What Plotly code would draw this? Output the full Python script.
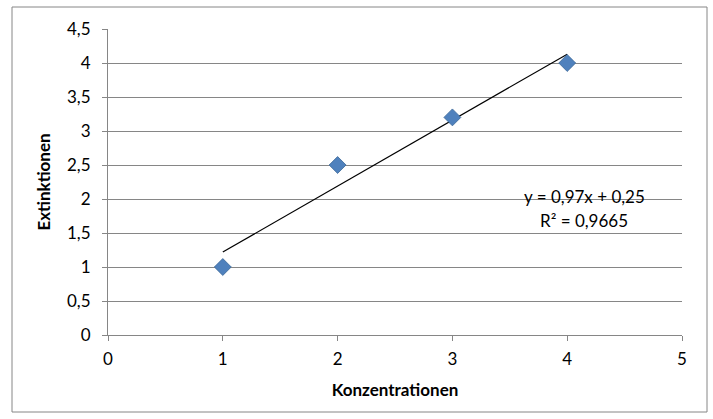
import numpy as np
import plotly.graph_objects as go

konz = [1, 2, 3, 4]
ext = [1, 2.5, 3.2, 4]
slope, intercept = 0.97, 0.25
r2_text = "R² = 0,9665"
eq_text = "y = 0,97x + 0,25"
x_ticks = [0, 1, 2, 3, 4, 5]
x_labels = ["0", "1", "2", "3", "4", "5"]
y_ticks = [0, 0.5, 1, 1.5, 2, 2.5, 3, 3.5, 4, 4.5]
y_labels = ["0", "0,5", "1", "1,5", "2", "2,5", "3", "3,5", "4", "4,5"]

FONT = "Lato"
GRID = "#868686"
FS = 17

trend_x = np.array([min(konz), max(konz)])
trend_y = slope * trend_x + intercept

fig = go.Figure()
fig.add_trace(go.Scatter(x=trend_x, y=trend_y, mode="lines",
                         line=dict(color="black", width=1.2), showlegend=False, hoverinfo="skip"))
fig.add_trace(go.Scatter(x=konz, y=ext, mode="markers",
                         marker=dict(symbol="diamond", size=13, color="#4F81BD",
                                     line=dict(color="#3A6797", width=0.8)),
                         showlegend=False))

fig.add_annotation(x=4.15, y=2.03, xref="x", yref="y", text=eq_text, showarrow=False,
                   font=dict(family=FONT, size=FS, color="#000"))
fig.add_annotation(x=4.15, y=1.68, xref="x", yref="y", text=r2_text, showarrow=False,
                   font=dict(family=FONT, size=FS, color="#000"))

pw, ph = 574, 306
fig.add_shape(type="rect", xref="paper", yref="paper",
              x0=(12 - 108) / pw, x1=(707 - 108) / pw,
              y0=(335 - 412) / ph, y1=(335 - 7) / ph,
              line=dict(color="#868686", width=1), layer="below")

fig.update_layout(
    width=713, height=419,
    margin=dict(l=108, r=31, t=29, b=84),
    paper_bgcolor="white", plot_bgcolor="white",
    font=dict(family=FONT, size=FS, color="#000"),
    xaxis=dict(range=[0, 5], tickvals=x_ticks, ticktext=x_labels,
               showgrid=False, showline=True, linecolor=GRID, linewidth=1,
               ticks="outside", ticklen=5, tickcolor=GRID, zeroline=False,
               ticklabelstandoff=4,
               title=dict(text="<b>Konzentrationen</b>", font=dict(size=FS), standoff=15)),
    yaxis=dict(range=[0, 4.5], tickvals=y_ticks, ticktext=y_labels,
               showgrid=True, gridcolor=GRID, gridwidth=1,
               showline=True, linecolor=GRID, linewidth=1,
               ticks="outside", ticklen=5, tickcolor=GRID, zeroline=False,
               ticklabelstandoff=8,
               title=dict(text="<b>Extinktionen</b>", font=dict(size=FS), standoff=12)),
)

fig.write_html("out.html", config={"displayModeBar": False},
               post_script="document.body.style.margin='0';")
